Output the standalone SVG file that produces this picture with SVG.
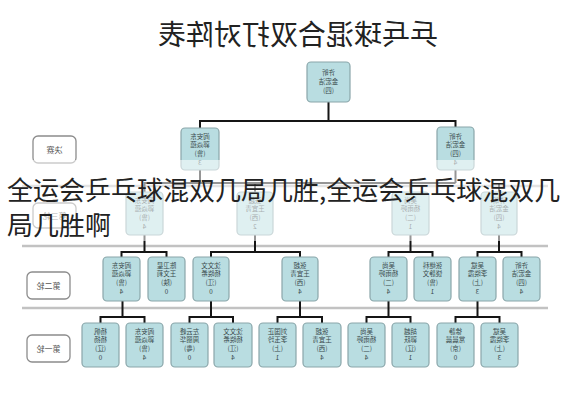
<svg xmlns="http://www.w3.org/2000/svg" width="565" height="400" viewBox="0 0 565 400">
<style>
.n rect{fill:#b9dde1;stroke:#8aa6aa;stroke-width:1.2}
.n text{font-family:"Noto Sans CJK SC","Noto Sans",sans-serif;font-size:6.5px;fill:#3a4a4c;text-anchor:middle}
.lb rect{fill:#fff;stroke:#8c8c8c;stroke-width:1.3}
.lb text{font-family:"Noto Sans CJK SC","Noto Sans",sans-serif;font-size:8px;fill:#555;text-anchor:middle}
.c{stroke:#151515;stroke-width:2;fill:none}
.sep{stroke:#c2c2c2;stroke-width:2.5}
.title{font-family:"Noto Sans CJK SC",sans-serif;font-size:28px;fill:#222;text-anchor:middle}
.ov{font-family:"Noto Sans CJK SC","Noto Sans CJK JP",sans-serif;font-size:26px;fill:#222}
</style>
<rect width="565" height="400" fill="#fff"/>
<text class="title" x="-298" y="45" transform="scale(-1,1)">乒乓球混合双打对阵表</text>
<g id="separators">
<line class="sep" x1="22" y1="186" x2="548" y2="186"/>
<line class="sep" x1="22" y1="246" x2="548" y2="246"/>
<line class="sep" x1="22" y1="308" x2="548" y2="308"/>
</g>
<g id="connectors">
<path class="c" d="M328.5,102V121M200,128V121H455.5V127"/>
<path class="c" d="M200,170V183M144.5,192V183H455.5M499,192V183M410.5,192V183M455.5,170V183M255,192V183"/>
<path class="c" d="M121.5,257V252H166.5V257M144.5,235V252"/>
<path class="c" d="M211,257V252H300V257M255,235V252"/>
<path class="c" d="M388.5,257V252H432.5V257M410.5,235V252"/>
<path class="c" d="M477.5,257V252H521.5V257M499,235V252"/>
<path class="c" d="M100.5,323V317H144.5V323M122.5,301V317"/>
<path class="c" d="M189.5,323V317H233V323M211,301V317"/>
<path class="c" d="M277.5,323V317H322V323M300,301V317"/>
<path class="c" d="M366.5,323V317H410.5V323M388.5,301V317"/>
<path class="c" d="M455.5,323V317H499.5V323M477.5,301V317"/>
</g>
<g id="labels">
<g id="lb-final" class="lb"><rect x="33" y="136" width="43" height="27" rx="5"/><text x="-54.5" y="152.5" transform="scale(-1,1)">决赛</text></g>
<g id="lb-r3" class="lb"><rect x="33" y="203" width="43" height="25" rx="5"/><text x="-54.5" y="218.5" transform="scale(-1,1)">第三轮</text></g>
<g id="lb-r2" class="lb"><rect x="27" y="272" width="43" height="27" rx="5"/><text x="-48.5" y="288.5" transform="scale(-1,1)">第二轮</text></g>
<g id="lb-r1" class="lb"><rect x="27" y="335" width="43" height="27" rx="5"/><text x="-48.5" y="351.5" transform="scale(-1,1)">第一轮</text></g>
</g>
<g id="n-top" class="n"><rect x="307" y="62" width="43" height="40" rx="4"/><g transform="matrix(-1 0 0 1 657 0)"><text x="328.5" y="75">许昕</text><text x="328.5" y="84">金宏洁</text><text x="328.5" y="93">(四)</text></g></g>
<g id="n-sf1" class="n"><rect x="181" y="128" width="38" height="42" rx="4"/><g transform="matrix(-1 0 0 1 400 0)"><text x="200" y="139">阎安东</text><text x="200" y="147">郭焱蕴</text><text x="200" y="156">(鲁)</text><text x="200" y="165">3</text></g></g>
<g id="n-sf2" class="n"><rect x="437" y="127" width="37" height="43" rx="4"/><g transform="matrix(-1 0 0 1 911 0)"><text x="455.5" y="139">许昕</text><text x="455.5" y="147">金宏洁</text><text x="455.5" y="156">(四)</text><text x="455.5" y="165">4</text></g></g>
<g id="n-q1" class="n"><rect x="126" y="192" width="37" height="43" rx="4"/><g transform="matrix(-1 0 0 1 289 0)"><text x="144.5" y="203">阎安东</text><text x="144.5" y="211">郭焱蕴</text><text x="144.5" y="220">(鲁)</text><text x="144.5" y="229">4</text></g></g>
<g id="n-q2" class="n"><rect x="237" y="192" width="36" height="43" rx="4"/><g transform="matrix(-1 0 0 1 510 0)"><text x="255" y="203">张超</text><text x="255" y="211">王宜青</text><text x="255" y="220">(西)</text><text x="255" y="229">2</text></g></g>
<g id="n-q3" class="n"><rect x="392" y="192" width="37" height="43" rx="4"/><g transform="matrix(-1 0 0 1 821 0)"><text x="410.5" y="203">吴尚</text><text x="410.5" y="211">杨雨婷</text><text x="410.5" y="220">(二)</text><text x="410.5" y="229">1</text></g></g>
<g id="n-q4" class="n"><rect x="481" y="192" width="36" height="43" rx="4"/><g transform="matrix(-1 0 0 1 998 0)"><text x="499" y="203">许昕</text><text x="499" y="211">金宏洁</text><text x="499" y="220">(四)</text><text x="499" y="229">4</text></g></g>
<g id="n-r2-1" class="n"><rect x="103" y="257" width="37" height="44" rx="4"/><g transform="matrix(-1 0 0 1 243 0)"><text x="121.5" y="268">阎安东</text><text x="121.5" y="276">郭焱蕴</text><text x="121.5" y="285">(鲁)</text><text x="121.5" y="294">4</text></g></g>
<g id="n-r2-2" class="n"><rect x="148" y="257" width="37" height="44" rx="4"/><g transform="matrix(-1 0 0 1 333 0)"><text x="166.5" y="268">陈卫星</text><text x="166.5" y="276">王文莉</text><text x="166.5" y="285">(陕)</text><text x="166.5" y="294">0</text></g></g>
<g id="n-r2-3" class="n"><rect x="193" y="257" width="36" height="44" rx="4"/><g transform="matrix(-1 0 0 1 422 0)"><text x="211" y="268">沈文文</text><text x="211" y="276">杨晓希</text><text x="211" y="285">(江)</text><text x="211" y="294">0</text></g></g>
<g id="n-r2-4" class="n"><rect x="282" y="257" width="36" height="44" rx="4"/><g transform="matrix(-1 0 0 1 600 0)"><text x="300" y="268">张超</text><text x="300" y="276">王宜青</text><text x="300" y="285">(西)</text><text x="300" y="294">4</text></g></g>
<g id="n-r2-5" class="n"><rect x="370" y="257" width="37" height="44" rx="4"/><g transform="matrix(-1 0 0 1 777 0)"><text x="388.5" y="268">吴尚</text><text x="388.5" y="276">杨雨婷</text><text x="388.5" y="285">(二)</text><text x="388.5" y="294">4</text></g></g>
<g id="n-r2-6" class="n"><rect x="414" y="257" width="37" height="44" rx="4"/><g transform="matrix(-1 0 0 1 865 0)"><text x="432.5" y="268">张继科</text><text x="432.5" y="276">饶静文</text><text x="432.5" y="285">(鲁)</text><text x="432.5" y="294">1</text></g></g>
<g id="n-r2-7" class="n"><rect x="459" y="257" width="37" height="44" rx="4"/><g transform="matrix(-1 0 0 1 955 0)"><text x="477.5" y="268">吴斌</text><text x="477.5" y="276">李晓霞</text><text x="477.5" y="285">(上)</text><text x="477.5" y="294">3</text></g></g>
<g id="n-r2-8" class="n"><rect x="503" y="257" width="37" height="44" rx="4"/><g transform="matrix(-1 0 0 1 1043 0)"><text x="521.5" y="268">许昕</text><text x="521.5" y="276">金宏洁</text><text x="521.5" y="285">(四)</text><text x="521.5" y="294">4</text></g></g>
<g id="n-r1-1" class="n"><rect x="82" y="323" width="37" height="44" rx="4"/><g transform="matrix(-1 0 0 1 201 0)"><text x="100.5" y="334">杨帆</text><text x="100.5" y="342">杨扬</text><text x="100.5" y="351">(辽)</text><text x="100.5" y="360">0</text></g></g>
<g id="n-r1-2" class="n"><rect x="126" y="323" width="37" height="44" rx="4"/><g transform="matrix(-1 0 0 1 289 0)"><text x="144.5" y="334">阎安东</text><text x="144.5" y="342">郭焱蕴</text><text x="144.5" y="351">(鲁)</text><text x="144.5" y="360">4</text></g></g>
<g id="n-r1-3" class="n"><rect x="171" y="323" width="37" height="44" rx="4"/><g transform="matrix(-1 0 0 1 379 0)"><text x="189.5" y="334">左云峰</text><text x="189.5" y="342">周丽华</text><text x="189.5" y="351">(粤)</text><text x="189.5" y="360">0</text></g></g>
<g id="n-r1-4" class="n"><rect x="214" y="323" width="38" height="44" rx="4"/><g transform="matrix(-1 0 0 1 466 0)"><text x="233" y="334">沈文文</text><text x="233" y="342">杨晓希</text><text x="233" y="351">(江)</text><text x="233" y="360">4</text></g></g>
<g id="n-r1-5" class="n"><rect x="259" y="323" width="37" height="44" rx="4"/><g transform="matrix(-1 0 0 1 555 0)"><text x="277.5" y="334">刘国正</text><text x="277.5" y="342">李玉玲</text><text x="277.5" y="351">(上)</text><text x="277.5" y="360">1</text></g></g>
<g id="n-r1-6" class="n"><rect x="303" y="323" width="38" height="44" rx="4"/><g transform="matrix(-1 0 0 1 644 0)"><text x="322" y="334">张超</text><text x="322" y="342">王宜青</text><text x="322" y="351">(西)</text><text x="322" y="360">4</text></g></g>
<g id="n-r1-7" class="n"><rect x="348" y="323" width="37" height="44" rx="4"/><g transform="matrix(-1 0 0 1 733 0)"><text x="366.5" y="334">吴尚</text><text x="366.5" y="342">杨雨婷</text><text x="366.5" y="351">(二)</text><text x="366.5" y="360">4</text></g></g>
<g id="n-r1-8" class="n"><rect x="392" y="323" width="37" height="44" rx="4"/><g transform="matrix(-1 0 0 1 821 0)"><text x="410.5" y="334">胡越</text><text x="410.5" y="342">郭跃</text><text x="410.5" y="351">(辽)</text><text x="410.5" y="360">1</text></g></g>
<g id="n-r1-9" class="n"><rect x="437" y="323" width="37" height="44" rx="4"/><g transform="matrix(-1 0 0 1 911 0)"><text x="455.5" y="334">徐静</text><text x="455.5" y="342">常晨晨</text><text x="455.5" y="351">(京)</text><text x="455.5" y="360">0</text></g></g>
<g id="n-r1-10" class="n"><rect x="481" y="323" width="37" height="44" rx="4"/><g transform="matrix(-1 0 0 1 999 0)"><text x="499.5" y="334">吴斌</text><text x="499.5" y="342">李晓霞</text><text x="499.5" y="351">(上)</text><text x="499.5" y="360">3</text></g></g>
<rect x="0" y="160" width="565" height="81" fill="#fff" fill-opacity="0.55"/>
<text class="ov" x="7" y="200">全运会乒乓球混双几局几胜,全运会乒乓球混双几</text>
<text class="ov" x="7" y="235">局几胜啊</text>
</svg>
